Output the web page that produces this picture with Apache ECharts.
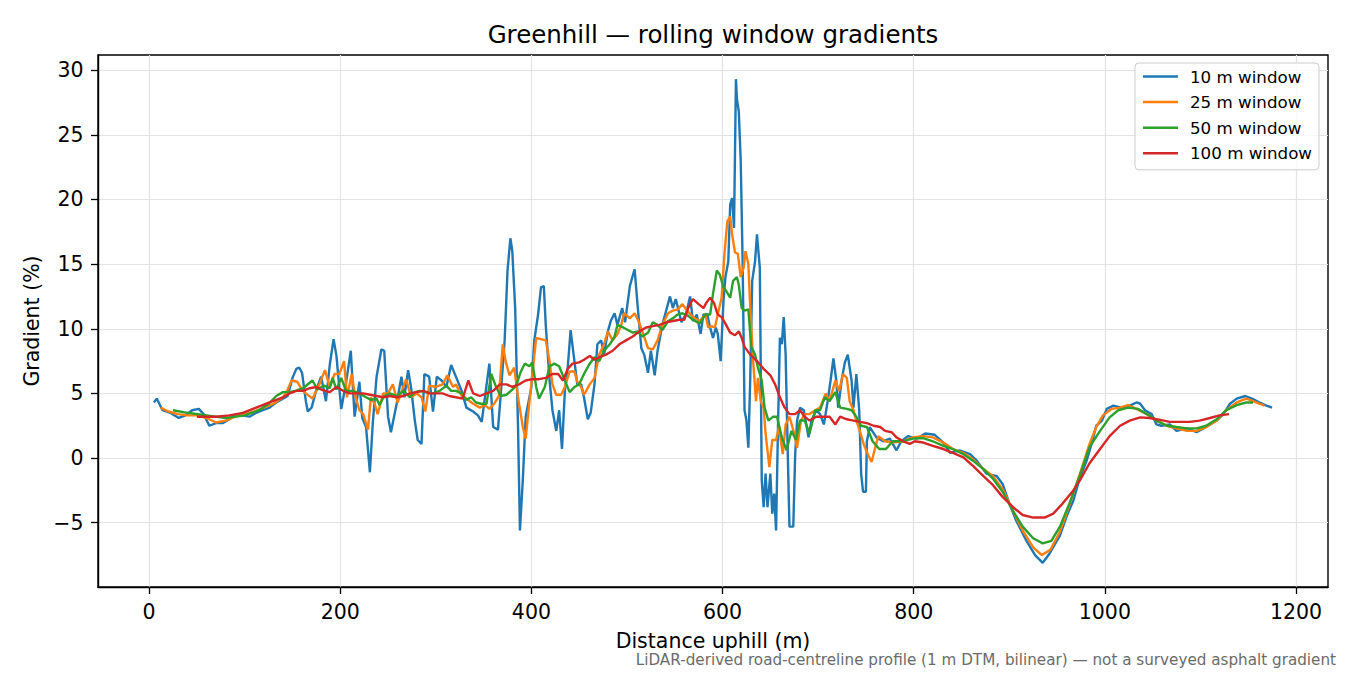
<!DOCTYPE html>
<html>
<head>
<meta charset="utf-8">
<title>Greenhill — rolling window gradients</title>
<script src="https://cdn.jsdelivr.net/npm/echarts@6/dist/echarts.min.js"></script>
<style>
  html, body { margin: 0; padding: 0; background: #fff; }
  #chart { width: 1350px; height: 675px; }
</style>
</head>
<body>
<div id="chart"></div>
<script>
// distance (m) and gradient (%), one pair of arrays per window
var dist10 = [5, 8, 14, 22, 31, 38, 45, 52, 57, 63, 70, 77, 84, 91, 98, 105, 112, 119, 126, 133, 140, 145, 150, 154, 157, 160, 164, 166, 170, 175, 180, 185, 189, 193, 196, 201, 206, 211, 215, 220, 223, 227, 231, 234, 238, 243, 246, 250, 253, 259, 264, 267, 271, 274, 278, 281, 285, 288, 293, 297, 301, 306, 311, 316, 321, 327, 332, 339, 344, 348, 351, 356, 360, 365, 368, 372, 375, 378, 380, 383, 386, 388, 391, 394, 400, 403, 407, 410, 413, 415, 419, 422, 426, 429, 432, 435, 438, 441, 445, 448, 452, 455, 459, 462, 466, 469, 473, 476, 480, 483, 487, 490, 495, 498, 503, 506, 508, 511, 515, 518, 522, 525, 529, 532, 537, 541, 545, 548, 551, 557, 562, 566, 569, 573, 577, 580, 584, 587, 590, 593, 595, 598, 601, 603, 606, 608, 610, 612, 614, 615, 617, 619, 621, 623, 625, 627, 629, 631, 634, 636, 639, 641, 643, 645, 647, 650, 652, 654, 656, 658, 660, 662, 664, 666, 668, 670, 674, 676, 678, 681, 685, 690, 693, 698, 702, 706, 710, 713, 716, 719, 721, 725, 728, 731, 735, 737, 740, 743, 745, 747, 750, 751, 754, 761, 768, 775, 782, 787, 794, 803, 812, 822, 831, 838, 848, 859, 866, 876, 887, 893, 900, 907, 918, 927, 935, 942, 953, 960, 967, 974, 981, 988, 991, 997, 1002, 1009, 1017, 1026, 1033, 1037, 1042, 1049, 1054, 1059, 1068, 1075, 1086, 1096, 1106, 1117, 1124, 1131, 1138, 1147, 1154, 1162, 1169, 1175];
var grad10 = [4.3, 4.6, 3.7, 3.5, 3.1, 3.3, 3.7, 3.8, 3.4, 2.5, 2.7, 2.7, 3.0, 3.4, 3.3, 3.2, 3.5, 3.7, 3.9, 4.3, 4.6, 4.8, 6.2, 6.9, 7.0, 6.6, 4.4, 3.6, 3.9, 5.3, 6.3, 4.4, 7.2, 9.2, 7.9, 3.8, 5.8, 8.3, 3.2, 5.9, 3.1, 2.4, -1.1, 2.7, 6.3, 8.4, 8.3, 3.2, 2.0, 4.2, 6.3, 4.7, 6.8, 5.5, 2.9, 1.4, 1.1, 6.5, 6.3, 3.6, 6.3, 6.0, 5.5, 7.2, 6.3, 5.2, 3.9, 3.6, 3.3, 2.8, 4.5, 7.3, 2.4, 2.2, 5.0, 9.1, 14.5, 17.0, 16.0, 11.6, 2.4, -5.6, -1.7, 3.2, 5.5, 9.1, 11.1, 13.2, 13.3, 10.3, 6.0, 3.7, 2.1, 3.7, 0.7, 5.2, 7.0, 9.9, 7.5, 5.7, 5.7, 4.7, 3.0, 3.5, 5.7, 8.8, 9.1, 8.0, 9.8, 10.6, 11.2, 10.3, 11.6, 10.5, 13.3, 14.1, 14.6, 11.9, 8.5, 8.0, 6.6, 8.3, 6.4, 8.3, 10.3, 11.4, 12.5, 11.6, 12.3, 10.5, 11.2, 12.5, 10.6, 11.1, 9.6, 11.1, 11.1, 10.1, 9.3, 10.1, 9.6, 7.5, 12.2, 14.0, 15.2, 19.6, 20.1, 17.8, 29.3, 27.8, 26.8, 23.0, 15.2, 3.7, 2.9, 0.8, 6.2, 13.7, 15.2, 17.3, 14.7, -1.7, -3.8, -1.2, -3.8, -1.2, -4.3, -2.75, -5.6, 2.4, 9.3, 8.8, 10.9, 8.0, 1.1, -5.3, -5.3, 0.3, 2.9, 3.9, 3.7, 1.6, 2.9, 3.7, 3.4, 2.6, 4.4, 6.0, 7.7, 6.0, 3.9, 6.2, 7.4, 8.0, 6.0, 3.9, 6.5, 3.7, -1.2, -2.6, -2.6, 1.3, 2.4, 1.6, 1.3, 1.5, 0.6, 1.3, 1.7, 1.5, 1.9, 1.8, 1.2, 0.4, 0.6, 0.3, -0.2, -1.2, -1.4, -2.0, -3.5, -4.8, -6.4, -7.5, -8.1, -7.4, -6.0, -4.5, -3.3, -1.5, -0.2, 1.6, 2.5, 2.9, 3.8, 4.05, 3.9, 4.05, 4.3, 4.2, 3.7, 3.4, 2.6, 2.5, 2.6, 2.1, 2.3, 2.0, 2.4, 2.9, 3.4, 4.2, 4.6, 4.8, 4.6, 4.3, 4.05, 3.9];

var dist25 = [12, 20, 30, 40, 50, 60, 70, 80, 90, 100, 110, 120, 130, 140, 145, 149, 155, 160, 164, 171, 177, 184, 189, 194, 199, 204, 207, 212, 215, 220, 224, 229, 232, 236, 239, 245, 250, 255, 260, 266, 269, 274, 280, 285, 289, 293, 300, 307, 312, 318, 321, 327, 332, 339, 346, 351, 356, 361, 366, 370, 373, 377, 382, 386, 391, 394, 398, 401, 405, 410, 415, 419, 422, 426, 431, 435, 440, 445, 448, 452, 455, 461, 466, 471, 476, 480, 485, 490, 494, 497, 503, 508, 512, 517, 522, 527, 532, 537, 543, 548, 553, 558, 563, 569, 576, 582, 585, 588, 592, 595, 599, 602, 605, 608, 610, 613, 616, 619, 622, 624, 627, 629, 632, 635, 637, 640, 643, 645, 649, 652, 656, 659, 663, 666, 670, 675, 678, 682, 686, 691, 697, 702, 708, 712, 718, 722, 726, 730, 733, 737, 740, 744, 748, 752, 756, 759, 763, 770, 778, 789, 799, 810, 820, 831, 841, 852, 862, 873, 883, 893, 904, 914, 925, 934, 943, 953, 963, 974, 984, 991, 998, 1007, 1016, 1024, 1033, 1044, 1054, 1065, 1075, 1086, 1096, 1106, 1117, 1127, 1138, 1148, 1155, 1162, 1167];
var grad25 = [3.9, 3.6, 3.4, 3.3, 3.3, 3.1, 2.75, 2.9, 3.2, 3.4, 3.6, 3.9, 4.2, 4.7, 5.3, 6.0, 5.9, 5.3, 5.0, 4.6, 5.5, 6.8, 5.5, 6.5, 6.5, 7.5, 4.7, 6.5, 5.0, 3.7, 3.4, 2.2, 4.7, 4.2, 3.4, 5.0, 5.0, 5.7, 4.3, 5.5, 6.1, 4.7, 5.0, 4.7, 3.6, 5.6, 5.5, 5.7, 6.4, 5.5, 5.7, 4.8, 4.6, 4.2, 3.9, 4.1, 3.8, 4.2, 4.8, 8.8, 7.5, 6.4, 7.0, 4.7, 2.4, 1.5, 4.4, 6.5, 9.3, 9.2, 9.1, 7.5, 5.7, 4.9, 4.9, 5.5, 6.7, 6.7, 5.9, 5.5, 4.9, 5.7, 6.2, 8.0, 8.8, 9.8, 9.1, 9.6, 10.3, 11.2, 10.8, 11.2, 10.6, 9.6, 8.5, 8.4, 9.1, 10.3, 11.2, 11.4, 11.5, 11.9, 11.4, 10.9, 10.6, 11.1, 10.1, 10.2, 10.1, 11.1, 12.4, 15.8, 18.3, 18.7, 17.3, 15.9, 15.8, 14.0, 14.7, 16.0, 15.0, 11.6, 7.5, 4.4, 6.2, 4.4, 3.9, 1.9, -0.7, 1.4, 1.4, 2.4, 0.3, 2.6, 3.2, 1.9, 0.8, 2.9, 3.4, 3.4, 3.7, 3.9, 5.0, 4.4, 6.0, 5.2, 6.5, 6.2, 4.4, 3.7, 2.9, 2.0, 1.0, 0.3, -0.3, 0.6, 1.7, 1.3, 1.2, 1.3, 1.6, 1.7, 1.6, 1.2, 0.7, 0.4, -0.1, -0.85, -1.4, -2.4, -4.1, -5.6, -6.9, -7.5, -7.1, -5.7, -3.6, -1.2, 1.1, 2.4, 3.3, 3.8, 3.9, 4.1, 3.8, 3.4, 2.9, 2.5, 2.3, 2.1, 2.1, 2.4, 2.9, 3.7, 4.3, 4.6, 4.4, 4.2, 4.05];

var dist50 = [25, 40, 60, 80, 100, 115, 125, 133, 140, 147, 153, 161, 171, 176, 183, 189, 192, 196, 201, 206, 213, 220, 227, 232, 238, 241, 246, 252, 259, 266, 273, 278, 283, 290, 297, 304, 311, 316, 321, 327, 332, 337, 342, 347, 353, 358, 363, 368, 374, 380, 384, 389, 393, 398, 401, 405, 408, 414, 419, 424, 429, 435, 440, 445, 450, 455, 461, 466, 471, 476, 482, 487, 490, 496, 501, 506, 511, 516, 522, 527, 532, 537, 543, 548, 553, 558, 564, 569, 576, 582, 587, 590, 594, 597, 601, 604, 608, 611, 615, 617, 620, 623, 627, 630, 634, 637, 641, 644, 648, 653, 657, 662, 667, 672, 677, 681, 686, 691, 697, 702, 707, 712, 718, 723, 730, 735, 740, 745, 751, 757, 764, 771, 778, 789, 799, 810, 820, 831, 841, 852, 862, 873, 883, 893, 904, 914, 925, 935, 944, 953, 963, 974, 984, 995, 1005, 1014, 1024, 1035, 1044, 1054, 1065, 1075, 1086, 1096, 1106, 1117, 1127, 1138, 1148, 1155];
var grad50 = [3.7, 3.5, 3.3, 3.1, 3.3, 3.7, 4.2, 4.8, 5.1, 5.1, 5.2, 5.4, 6.0, 5.3, 5.6, 5.4, 6.2, 5.3, 6.2, 5.2, 5.2, 5.0, 4.7, 4.5, 4.6, 4.1, 4.8, 5.0, 4.8, 5.2, 4.7, 5.1, 5.2, 5.1, 5.0, 5.2, 5.6, 5.2, 5.2, 5.0, 4.5, 4.7, 4.3, 4.2, 4.2, 6.5, 5.5, 4.8, 4.9, 5.3, 5.6, 6.7, 7.3, 7.1, 7.4, 5.5, 4.6, 5.5, 7.1, 7.3, 7.1, 6.0, 5.1, 5.5, 5.7, 6.5, 7.3, 7.8, 7.5, 8.3, 8.8, 9.4, 10.3, 10.1, 9.9, 9.7, 9.8, 9.4, 9.7, 10.5, 10.3, 9.9, 10.6, 10.8, 11.1, 11.2, 11.0, 10.7, 10.4, 11.1, 11.1, 12.7, 14.5, 14.2, 13.2, 12.9, 12.4, 13.7, 14.0, 13.4, 11.6, 11.4, 11.5, 8.6, 8.0, 7.0, 6.0, 3.9, 2.9, 3.2, 3.2, 1.6, 0.6, 2.1, 1.4, 2.9, 2.9, 1.9, 3.7, 3.7, 4.7, 4.4, 5.1, 3.9, 3.8, 3.7, 3.2, 2.5, 2.4, 1.3, 0.7, 0.7, 1.3, 1.3, 1.5, 1.55, 1.3, 0.95, 0.7, 0.3, -0.2, -0.85, -1.6, -2.6, -4.1, -5.3, -6.2, -6.6, -6.4, -5.3, -3.5, -1.3, 0.85, 2.1, 3.15, 3.7, 3.9, 3.8, 3.4, 2.9, 2.5, 2.4, 2.3, 2.3, 2.5, 3.0, 3.7, 4.1, 4.3, 4.3];

var dist100 = [50, 70, 84, 98, 112, 126, 133, 140, 147, 154, 161, 168, 175, 180, 189, 196, 203, 210, 217, 224, 231, 238, 245, 252, 259, 266, 273, 280, 287, 293, 300, 307, 314, 321, 328, 334, 339, 346, 353, 360, 367, 374, 380, 387, 394, 401, 408, 415, 422, 428, 433, 438, 443, 450, 455, 461, 466, 471, 478, 485, 492, 499, 506, 513, 520, 527, 534, 541, 548, 555, 560, 564, 569, 575, 580, 583, 587, 591, 595, 599, 603, 608, 613, 617, 620, 623, 629, 636, 643, 650, 655, 660, 665, 670, 676, 681, 686, 691, 698, 705, 712, 718, 723, 730, 737, 744, 751, 758, 765, 770, 777, 782, 789, 796, 801, 810, 820, 831, 841, 852, 862, 873, 883, 893, 904, 914, 925, 937, 946, 956, 967, 974, 984, 995, 1005, 1016, 1026, 1037, 1047, 1058, 1068, 1079, 1089, 1099, 1110, 1120, 1130];
var grad100 = [3.2, 3.2, 3.3, 3.5, 3.9, 4.3, 4.5, 4.7, 5.0, 5.2, 5.2, 5.4, 5.5, 5.3, 5.1, 5.5, 5.2, 5.0, 5.0, 5.0, 4.9, 4.8, 4.7, 4.8, 4.7, 4.8, 5.0, 5.1, 5.2, 5.0, 5.0, 5.0, 4.8, 4.7, 4.6, 6.0, 5.0, 4.8, 5.0, 5.2, 5.7, 5.7, 5.5, 5.7, 6.0, 6.1, 6.1, 6.2, 6.5, 6.5, 6.0, 6.9, 7.3, 7.4, 7.6, 7.9, 7.6, 7.8, 8.0, 8.3, 8.8, 9.1, 9.4, 9.8, 10.1, 10.2, 10.3, 10.5, 10.6, 10.7, 10.7, 11.6, 12.3, 11.9, 11.6, 12.0, 12.4, 12.0, 11.1, 10.9, 10.4, 9.7, 9.5, 9.8, 9.3, 8.6, 8.0, 7.5, 6.9, 6.4, 5.7, 4.7, 3.9, 3.4, 3.4, 3.7, 3.2, 2.9, 3.2, 3.2, 3.2, 2.6, 3.2, 3.0, 2.9, 2.8, 2.7, 2.5, 2.4, 2.1, 2.0, 1.6, 1.3, 1.1, 1.3, 1.2, 0.95, 0.7, 0.4, 0.05, -0.6, -1.4, -2.1, -3.0, -3.8, -4.4, -4.6, -4.6, -4.3, -3.5, -2.5, -1.7, -0.4, 0.7, 1.7, 2.5, 2.9, 3.15, 3.1, 2.95, 2.8, 2.8, 2.8, 2.9, 3.1, 3.3, 3.4];

var xTicks = [0, 200, 400, 600, 800, 1000, 1200];
var yTicks = [-5, 0, 5, 10, 15, 20, 25, 30];
var windowNames = ['10 m window', '25 m window', '50 m window', '100 m window'];

function pairs(xs, ys) {
    return xs.map(function (x, i) { return [x, ys[i]]; });
}

var font = 'DejaVu Sans';
var dom = document.getElementById('chart');
var myChart = echarts.init(dom, null, { renderer: 'svg' });

function lineSeries(name, xs, ys, color) {
    return {
        name: name,
        type: 'line',
        data: pairs(xs, ys),
        symbol: 'none',
        showSymbol: false,
        lineStyle: { color: color, width: 2.4 },
        itemStyle: { color: color },
        emphasis: { disabled: true }
    };
}

var option = {
    animation: false,
    backgroundColor: '#ffffff',
    title: {
        text: 'Greenhill — rolling window gradients',
        left: 708,
        top: 17,
        textAlign: 'center',
        textStyle: { fontFamily: font, fontSize: 24.5, fontWeight: 'normal', color: '#000' }
    },
    legend: {
        orient: 'vertical',
        right: 31,
        top: 63,
        padding: [5, 7, 8, 8],
        icon: 'rect',
        itemWidth: 35,
        itemHeight: 2.5,
        itemGap: 8.6,
        backgroundColor: 'rgba(255,255,255,0.8)',
        borderColor: '#cccccc',
        borderWidth: 1,
        borderRadius: 4,
        textStyle: { fontFamily: font, fontSize: 16.7, color: '#000', padding: [0, 0, 0, 7] },
        data: windowNames
    },
    grid: {
        left: 98, right: 22, top: 55, bottom: 88,
        show: true,
        borderColor: '#000',
        borderWidth: 1.4,
        backgroundColor: 'transparent'
    },
    xAxis: {
        type: 'value',
        min: -53.5,
        max: 1233.5,
        name: 'Distance uphill (m)',
        nameLocation: 'middle',
        nameGap: 43,
        nameTextStyle: { fontFamily: font, fontSize: 20.5, color: '#000' },
        axisLine: { show: true, onZero: false, lineStyle: { color: '#000', width: 1.4 } },
        axisTick: { show: true, length: 7, lineStyle: { color: '#000', width: 1.3 }, customValues: xTicks },
        axisLabel: {
            fontFamily: font, fontSize: 20.5, color: '#000', margin: 14,
            customValues: xTicks,
            formatter: function (v) { return String(v); }
        },
        splitLine: { show: true, lineStyle: { color: '#e3e3e3', width: 1.2 } }
    },
    yAxis: {
        type: 'value',
        min: -9.97,
        max: 31.17,
        name: 'Gradient (%)',
        nameLocation: 'middle',
        nameGap: 55,
        nameTextStyle: { fontFamily: font, fontSize: 20.5, color: '#000' },
        axisLine: { show: true, onZero: false, lineStyle: { color: '#000', width: 1.4 } },
        axisTick: { show: true, length: 7, lineStyle: { color: '#000', width: 1.3 }, customValues: yTicks },
        axisLabel: {
            fontFamily: font, fontSize: 20.5, color: '#000', margin: 14.5,
            customValues: yTicks,
            formatter: function (v) { return v < 0 ? '\u2212' + Math.abs(v) : String(v); }
        },
        splitLine: { show: true, lineStyle: { color: '#e3e3e3', width: 1.2 } }
    },
    graphic: [{
        type: 'text',
        x: 1336,
        y: 660,
        style: {
            text: 'LiDAR-derived road-centreline profile (1 m DTM, bilinear) — not a surveyed asphalt gradient',
            align: 'right',
            verticalAlign: 'middle',
            fill: '#6b6b6b',
            font: '15.2px "DejaVu Sans"'
        }
    }],
    series: [
        lineSeries(windowNames[0], dist10, grad10, '#1f77b4'),
        lineSeries(windowNames[1], dist25, grad25, '#ff7f0e'),
        lineSeries(windowNames[2], dist50, grad50, '#2ca02c'),
        lineSeries(windowNames[3], dist100, grad100, '#d62728')
    ]
};

myChart.setOption(option);
</script>
</body>
</html>
